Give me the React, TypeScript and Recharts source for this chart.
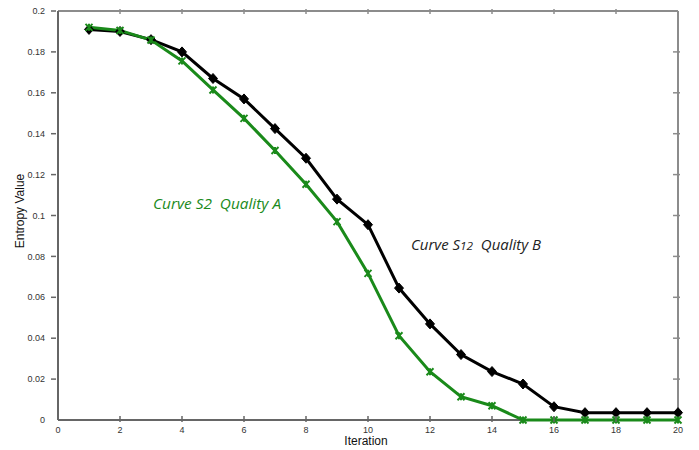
import React from 'react';
import { LineChart, Line, XAxis, YAxis, ReferenceLine } from 'recharts';

const iterations = [1, 2, 3, 4, 5, 6, 7, 8, 9, 10, 11, 12, 13, 14, 15, 16, 17, 18, 19, 20];
const curveS12 = [0.191, 0.19, 0.186, 0.18, 0.167, 0.157, 0.1425, 0.128, 0.108, 0.0955, 0.0645, 0.047, 0.032, 0.0237, 0.0176, 0.0065, 0.0036, 0.0036, 0.0036, 0.0036];
const curveS2 = [0.192, 0.1905, 0.1858, 0.1756, 0.1614, 0.1475, 0.1318, 0.1153, 0.097, 0.0717, 0.0412, 0.0236, 0.0114, 0.007, 0, 0, 0, 0, 0, 0];

const xTicks = [0, 2, 4, 6, 8, 10, 12, 14, 16, 18, 20];
const yTicks = [0, 0.02, 0.04, 0.06, 0.08, 0.1, 0.12, 0.14, 0.16, 0.18, 0.2];

const data = iterations.map((it, i) => ({ it, s12: curveS12[i], s2: curveS2[i] }));

const GREEN = '#1a8a1a';
const AXIS = '#666';
const FRAME = '#8c8c8c';
const TICK_FONT = '"Liberation Sans", Arial, sans-serif';
const NOTE_FONT = '"Open Sans", sans-serif';

const fmt = (v: number) => String(Math.round(v * 100) / 100);

// matlab style: bottom ticks point in, left ticks point out
const BottomTick = (props: any) => {
  const { x, y, payload } = props;
  const v = payload.value;
  const inner = v !== 0 && v !== 20;
  return (
    <g>
      {inner && <line x1={x} x2={x} y1={y} y2={y - 6} stroke={AXIS} strokeWidth={1.5} />}
      <text x={x} y={y + 11} textAnchor="middle" fontSize={9} fill="#333" fontFamily={TICK_FONT}>
        {fmt(v)}
      </text>
    </g>
  );
};

const LeftTick = (props: any) => {
  const { x, y, payload } = props;
  const v = payload.value;
  return (
    <g>
      {v !== 0 && <line x1={x} x2={x - 5} y1={y} y2={y} stroke={AXIS} strokeWidth={1.5} />}
      <text x={x - 11} y={y} dy="0.35em" textAnchor="end" fontSize={9} fill="#333" fontFamily={TICK_FONT}>
        {fmt(v)}
      </text>
    </g>
  );
};

const TopTick = (props: any) => {
  const { x, y, payload } = props;
  const v = payload.value;
  if (v === 0 || v === 20) return <g />;
  return <line x1={x} x2={x} y1={y} y2={y + 5} stroke={FRAME} strokeWidth={1.5} />;
};

const RightTick = (props: any) => {
  const { x, y, payload } = props;
  const v = payload.value;
  if (v === 0 || v === 0.2) return <g />;
  return <line x1={x} x2={x - 7} y1={y} y2={y} stroke={FRAME} strokeWidth={1.5} />;
};

const Diamond = (props: any) => {
  const { cx, cy } = props;
  if (cx == null || cy == null) return <g />;
  return <path d={`M${cx},${cy - 5} L${cx + 4.5},${cy} L${cx},${cy + 5} L${cx - 4.5},${cy} Z`} fill="#000" stroke="#000" strokeWidth={1} />;
};

const Star = (props: any) => {
  const { cx, cy } = props;
  if (cx == null || cy == null) return <g />;
  const r = 3.5;
  return (
    <g stroke={GREEN} strokeWidth={2}>
      <line x1={cx - r} y1={cy - r} x2={cx + r} y2={cy + r} />
      <line x1={cx - r} y1={cy + r} x2={cx + r} y2={cy - r} />
      <line x1={cx} y1={cy - r} x2={cx} y2={cy + r} />
    </g>
  );
};

export default function App() {
  return (
    <div style={{ position: 'absolute', left: 0, top: 0, width: 699, height: 450, background: '#fff' }}>
      <LineChart width={699} height={450} data={data} margin={{ top: 0, right: 0, bottom: 0, left: 0 }}>
        <XAxis dataKey="it" type="number" domain={[0, 20]} ticks={xTicks} height={30} tickSize={0} tickLine={false} axisLine={false} tick={<BottomTick />} />
        <XAxis xAxisId="top" orientation="top" dataKey="it" type="number" domain={[0, 20]} ticks={xTicks} height={11} tickSize={0} tickLine={false} axisLine={false} tick={<TopTick />} />
        <YAxis type="number" domain={[0, 0.2]} ticks={yTicks} width={58} tickSize={0} tickLine={false} axisLine={false} tick={<LeftTick />} />
        <YAxis yAxisId="right" orientation="right" type="number" domain={[0, 0.2]} ticks={yTicks} width={21} tickSize={0} tickLine={false} axisLine={false} tick={<RightTick />} />
        <ReferenceLine y={0.2} stroke={FRAME} strokeWidth={2} ifOverflow="visible" />
        <ReferenceLine x={20} stroke={FRAME} strokeWidth={2} ifOverflow="visible" />
        <ReferenceLine y={0} stroke={AXIS} strokeWidth={2} ifOverflow="visible" />
        <ReferenceLine x={0} stroke={AXIS} strokeWidth={2} ifOverflow="visible" />
        <Line xAxisId="top" yAxisId="right" dataKey="s12" stroke="none" dot={false} activeDot={false} isAnimationActive={false} />
        <Line dataKey="s12" stroke="#000" strokeWidth={3} dot={<Diamond />} activeDot={false} isAnimationActive={false} />
        <Line dataKey="s2" stroke={GREEN} strokeWidth={3} dot={<Star />} activeDot={false} isAnimationActive={false} />
        <text x={20} y={211} transform="rotate(-90 20 211)" textAnchor="middle" dy="0.35em" fontSize={12} fill="#111" fontFamily={TICK_FONT}>
          Entropy Value
        </text>
        <text x={366} y={445} textAnchor="middle" fontSize={12} fill="#111" fontFamily={TICK_FONT}>
          Iteration
        </text>
        <text x={153} y={209} fontSize={14} fontStyle="italic" fill={GREEN} fontFamily={NOTE_FONT} style={{ whiteSpace: 'pre' }} textLength={128} lengthAdjust="spacingAndGlyphs">
          {'Curve S2  Quality A'}
        </text>
        <text x={411} y={250} fontSize={14} fontStyle="italic" fill="#222" fontFamily={NOTE_FONT} style={{ whiteSpace: 'pre' }} textLength={130} lengthAdjust="spacingAndGlyphs">
          {'Curve S'}<tspan fontSize={11}>12</tspan>{'  Quality B'}
        </text>
      </LineChart>
    </div>
  );
}
